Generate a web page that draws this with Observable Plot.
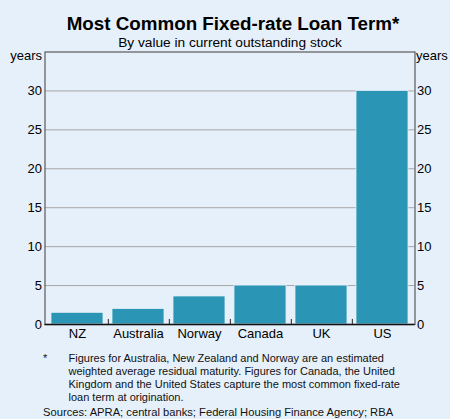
<!DOCTYPE html>
<html>
<head>
<meta charset="utf-8">
<script src="https://cdn.jsdelivr.net/npm/d3@7"></script>
<script src="https://cdn.jsdelivr.net/npm/@observablehq/plot@0.6"></script>
<style>
  html, body { margin: 0; padding: 0; background: #e6f0fa; }
  #wrap { position: relative; width: 450px; height: 419px; overflow: hidden; font-family: "Liberation Sans", Arial, sans-serif; color: #000; background: #e6f0fa; }
  #chart { position: absolute; left: 0; top: 0; }
  .t { position: absolute; white-space: nowrap; }
  #title { left: 8px; width: 450px; top: 13.8px; text-align: center; font-size: 18.8px; line-height: 20px; font-weight: bold; }
  #subtitle { left: 5px; width: 450px; top: 34.7px; text-align: center; font-size: 13.7px; line-height: 15px; }
  #yl { right: 408px; top: 48px; font-size: 13px; line-height: 15px; }
  #yr { left: 416px; top: 48px; font-size: 13px; line-height: 15px; }
  .fn { font-size: 11px; line-height: 13.3px; color: #111; }
</style>
</head>
<body>
<div id="wrap">
  <div id="chart"></div>
  <div class="t" id="title">Most Common Fixed-rate Loan Term*</div>
  <div class="t" id="subtitle">By value in current outstanding stock</div>
  <div class="t" id="yl">years</div>
  <div class="t" id="yr">years</div>
  <div class="t fn" style="left:43px;top:351.5px;">*</div>
  <div class="t fn" style="left:68.5px;top:351.5px;">Figures for Australia, New Zealand and Norway are an estimated<br>weighted average residual maturity. Figures for Canada, the United<br>Kingdom and the United States capture the most common fixed-rate<br>loan term at origination.</div>
  <div class="t fn" style="left:43px;top:406px;font-size:11.2px;">Sources: APRA; central banks; Federal Housing Finance Agency; RBA</div>
</div>
<script>
const countries = ["NZ", "Australia", "Norway", "Canada", "UK", "US"];
const terms = [1.5, 2, 3.6, 5, 5, 30];
const yTicks = [0, 5, 10, 15, 20, 25, 30];
const gridTicks = [5, 10, 15, 20, 25, 30];

const data = countries.map((c, i) => ({country: c, term: terms[i]}));

const W = 450, ML = 44.5, MR = 35.5;
const step = (W - ML - MR) / countries.length;

const chart = Plot.plot({
  width: W,
  height: 345,
  marginTop: 51.5,
  marginBottom: 21,
  marginLeft: ML,
  marginRight: MR,
  style: {background: "transparent", fontFamily: "'Liberation Sans', Arial, sans-serif", fontSize: "13px", color: "#000"},
  x: {domain: countries, paddingInner: 0.15, paddingOuter: 0.075, label: null},
  y: {domain: [0, 35], label: null},
  marks: [
    Plot.ruleY(gridTicks, {stroke: "#a6a6a6", strokeWidth: 1}),
    Plot.barY(data, {x: "country", y: "term", fill: "#2a95b5", stroke: "#e6f0fa", strokeWidth: 0.8}),
    Plot.ruleX(countries.slice(0, -1), {x: d => d, dx: step / 2, y1: 0, y2: 0.65, stroke: "#222", strokeWidth: 1}),
    Plot.frame({stroke: "#5a5a5a", strokeWidth: 1.2}),
    Plot.ruleY([0], {stroke: "#111", strokeWidth: 1.5}),
    Plot.axisY(yTicks, {anchor: "left", tickSize: 0, tickPadding: 3, label: null, fontSize: 13}),
    Plot.axisY(yTicks, {anchor: "right", tickSize: 0, tickPadding: 2, label: null, fontSize: 13}),
    Plot.axisX({tickSize: 0, tickPadding: 4, label: null, fontSize: 13})
  ]
});
document.getElementById("chart").appendChild(chart);
</script>
</body>
</html>
